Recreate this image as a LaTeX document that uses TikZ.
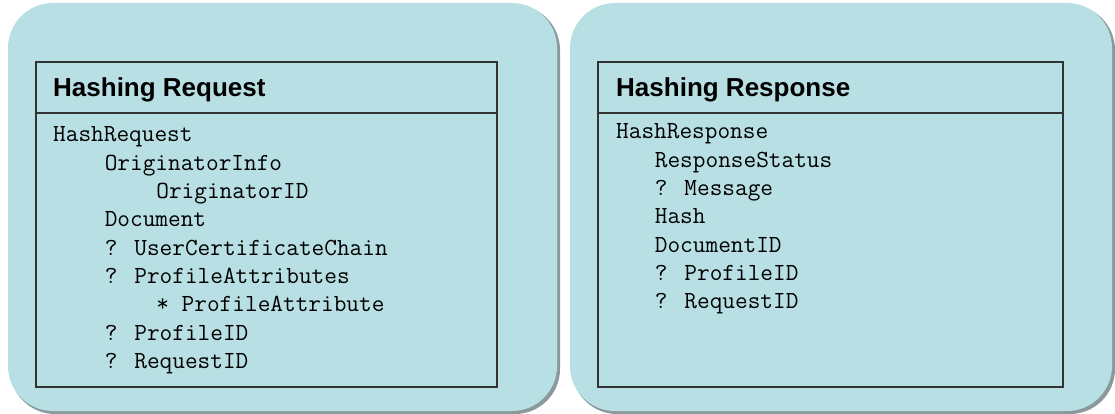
\documentclass[tikz,border=0pt]{standalone}
\usepackage{fontspec}
\setmainfont{Liberation Sans}
\definecolor{panelblue}{HTML}{B8DFE3}
\definecolor{shadowgray}{HTML}{8A9A9C}
\definecolor{boxline}{HTML}{333333}
\tikzset{
    panel/.style={fill=panelblue, rounded corners=45pt},
    panelshadow/.style={fill=shadowgray, rounded corners=45pt},
    msgbox/.style={draw=boxline, line width=1.6pt},
    title/.style={anchor=base west, inner sep=0pt, font=\fontsize{26}{30}\selectfont\bfseries},
    codeline/.style={anchor=base west, inner sep=0pt, font=\fontsize{24.6}{28}\ttfamily},
}

\begin{document}
\begin{tikzpicture}[x=1pt,y=-1pt]
        \useasboundingbox (0,0) rectangle (1115,414);

        % left panel
        \fill[panelshadow] (10,5) rectangle (560,414);
        \fill[panel] (8,3) rectangle (557,411);
        \draw[msgbox] (36,62) rectangle (497,387);
        \draw[msgbox] (36,113) -- (497,113);
        \node[title] (reqtitle) at (53,97) {Hashing Request};
        \foreach \ind/\txt [count=\i] in {0/HashRequest, 4/OriginatorInfo, 8/OriginatorID,
                4/Document, 4/? UserCertificateChain, 4/? ProfileAttributes,
                8/* ProfileAttribute, 4/? ProfileID, 4/? RequestID}
            \node[codeline] (req\i) at (53+\ind*12.9, 142+\i*28.3-28.3) {\txt};

        % right panel
        \fill[panelshadow] (572,5) rectangle (1115,414);
        \fill[panel] (570,3) rectangle (1112,411);
        \draw[msgbox] (598,62) rectangle (1063,387);
        \draw[msgbox] (598,113) -- (1063,113);
        \node[title] (restitle) at (616,97) {Hashing Response};
        \foreach \ind/\txt [count=\i] in {0/HashResponse, 3/ResponseStatus, 3/? Message,
                3/Hash, 3/DocumentID, 3/? ProfileID, 3/? RequestID}
            \node[codeline] (res\i) at (616+\ind*12.9, 139+\i*28.3-28.3) {\txt};

\end{tikzpicture}
\end{document}
